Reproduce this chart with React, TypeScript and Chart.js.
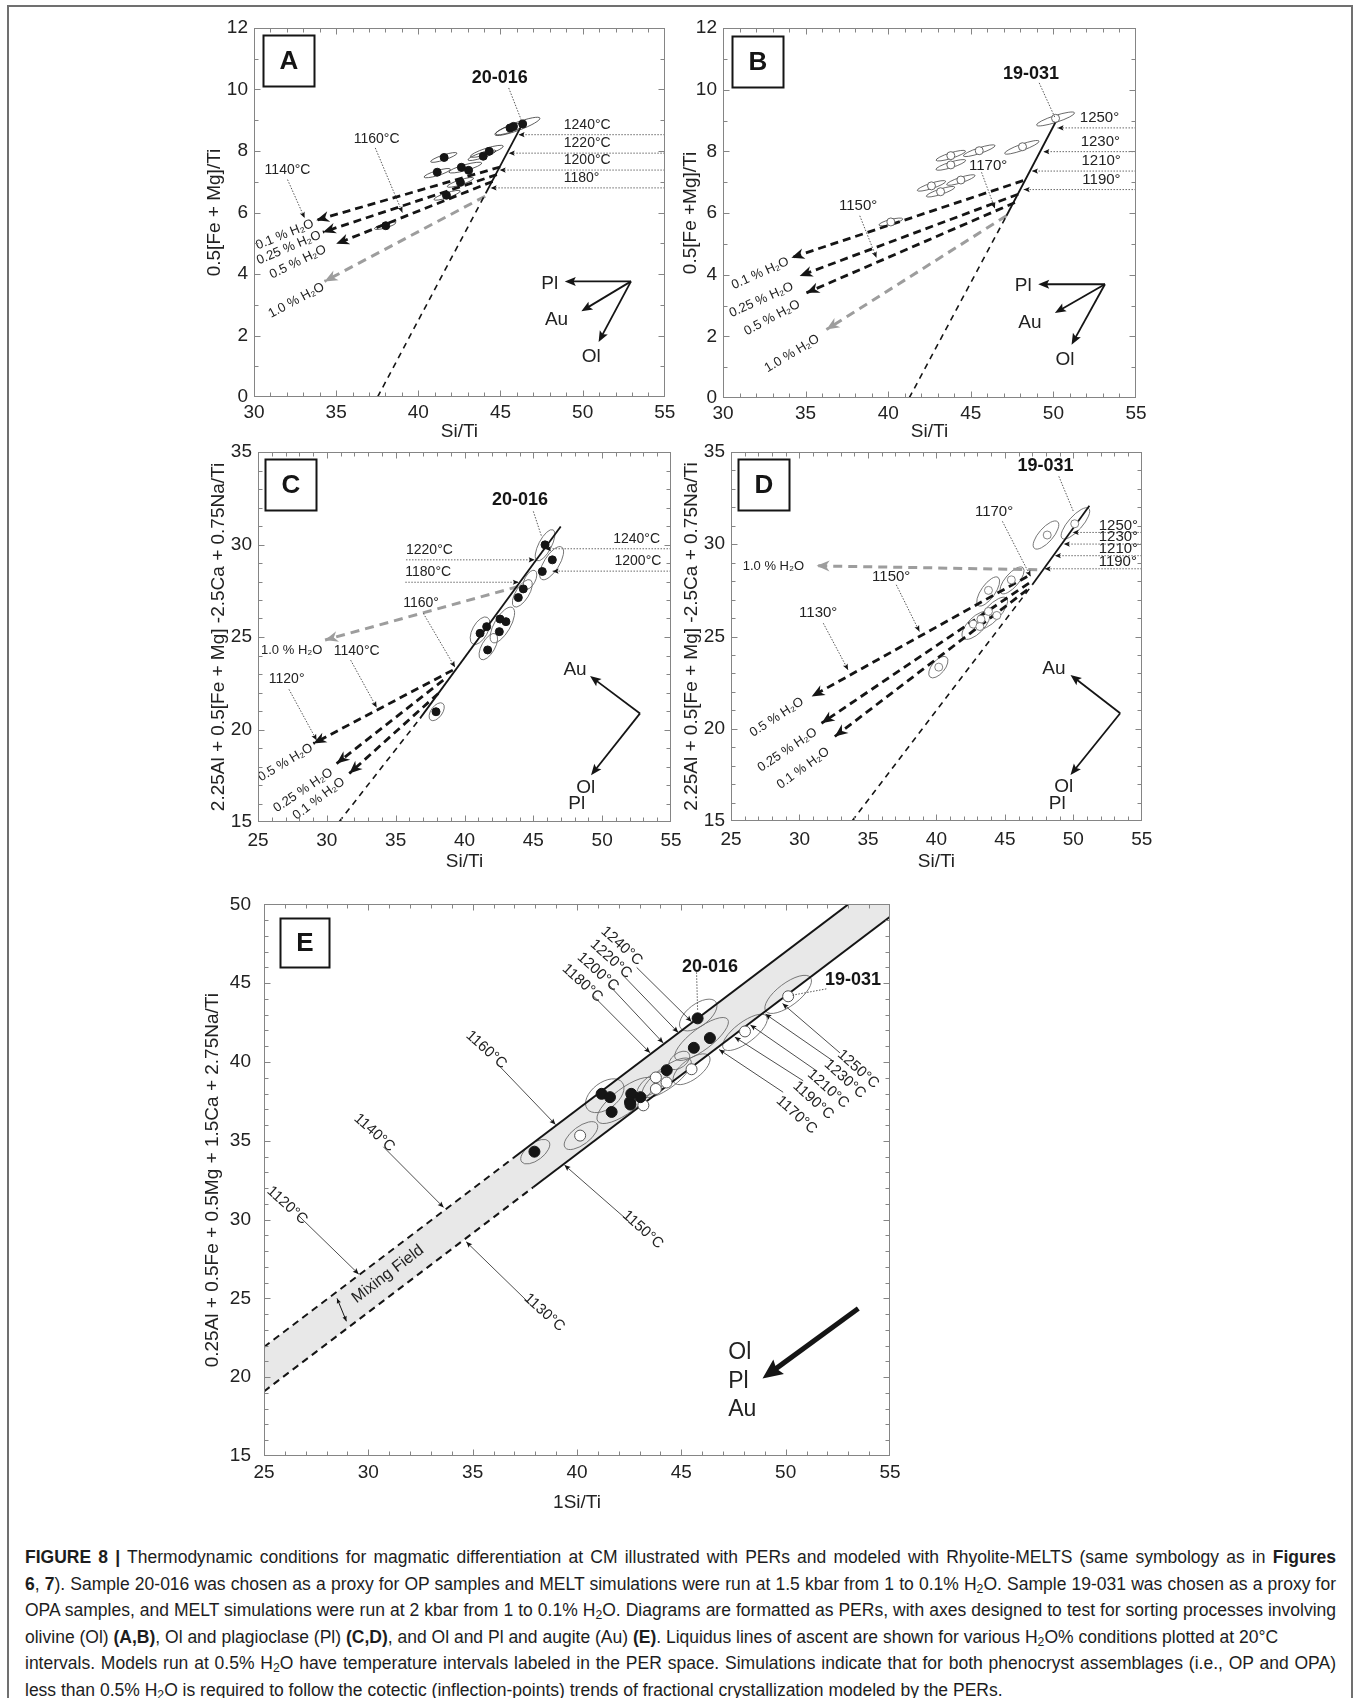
import React, { useEffect, useRef } from "react";
import { Chart, registerables } from "chart.js";

Chart.register(...registerables);

type Pt = [number, number];
type Temp = [string, number, number, number, number, string];
type Leader = [string, number, number, number, number, number, number];
type RLeader = [string, number, number, number, number, number, number, number];
type Vec = [string, number, number, number, number];
type TLabel = [string, number, number, number];
type PLabel = [string, number, number];

const FONT = '"Liberation Sans", Arial, Helvetica, sans-serif';
const INK = "#151515";
const GRAY = "#9d9d9d";
const FRAME = "#858585";
const TXT = "#222222";
const TICK_SIZE = 19;
const TITLE_SIZE = 19;

// ================= Panel A (OP, olivine PER) =================
const A_POINTS: Pt[] = [
  [46.35, 8.88], [45.79, 8.8], [45.58, 8.75], [41.57, 7.79], [44.31, 7.99], [43.95, 7.83],
  [41.15, 7.31], [42.62, 7.47], [43.06, 7.37], [42.56, 6.98], [41.71, 6.56], [38.02, 5.57],
];
// [cx, cy, half-major dx, half-major dy, minor/major]
const A_ELLIPSES: number[][] = [
  [46.03, 8.8, 1.37, 0.27, 0.17], [45.6, 8.72, 0.9, 0.17, 0.2], [41.55, 7.79, 0.8, 0.14, 0.18],
  [44.17, 7.99, 1.0, 0.17, 0.18], [43.87, 7.86, 0.85, 0.15, 0.18], [41.15, 7.28, 0.8, 0.13, 0.18],
  [42.86, 7.46, 1.0, 0.15, 0.17], [42.56, 6.98, 0.8, 0.14, 0.18], [41.75, 6.56, 0.8, 0.14, 0.18],
  [37.98, 5.57, 0.65, 0.1, 0.2],
];
const A_TREND_DASH: Pt[] = [[37.52, 0], [44.1, 6.62]];
const A_TREND_SOLID: Pt[] = [[44.1, 6.62], [46.35, 8.9]];
const A_H2O_BLACK: Pt[][] = [
  [[44.98, 7.48], [33.79, 5.75]],
  [[44.78, 7.23], [34.19, 5.36]],
  [[44.52, 7.01], [35.0, 4.98]],
];
const A_H2O_GRAY: Pt[] = [[44.07, 6.53], [34.29, 3.76]];
const A_H2O_LABELS: TLabel[] = [
  ["0.1 % H₂O", 31.88, 5.28, -22], ["0.25 % H₂O", 32.12, 4.85, -23],
  ["0.5 % H₂O", 32.68, 4.39, -26], ["1.0 % H₂O", 32.58, 3.14, -28],
];
const A_TEMPS: Temp[] = [
  ["1240°C", 8.53, 46.1, 55, 48.85, "left"], ["1220°C", 7.93, 45.5, 55, 48.85, "left"],
  ["1200°C", 7.38, 44.95, 55, 48.85, "left"], ["1180°", 6.8, 44.4, 55, 48.85, "left"],
];
const A_LEADERS: Leader[] = [
  ["1140°C", 32.04, 7.37, 32.04, 7.07, 33.08, 5.82],
  ["1160°C", 37.46, 8.37, 37.38, 8.1, 39.03, 6.0],
];
const A_SAMPLE: Leader = ["20-016", 44.96, 10.37, 45.5, 10.05, 46.3, 8.96];
const A_VEC_ORIGIN: Pt = [52.94, 3.76];
const A_VECTORS: Vec[] = [
  ["Pl", 48.91, 3.76, 48.0, 3.69], ["Au", 49.92, 2.79, 48.41, 2.52], ["Ol", 50.97, 1.79, 50.52, 1.32],
];

// ================= Panel B (OPA, olivine PER) =================
const B_POINTS: Pt[] = [
  [50.13, 9.07], [48.13, 8.15], [45.51, 8.02], [43.79, 7.86], [43.79, 7.56], [44.4, 7.07],
  [42.62, 6.88], [43.17, 6.69], [40.16, 5.71],
];
const B_ELLIPSES: number[][] = [
  [50.13, 9.05, 1.15, 0.2, 0.17], [48.09, 8.13, 1.04, 0.2, 0.17], [45.51, 8.02, 0.96, 0.17, 0.17],
  [43.79, 7.86, 0.89, 0.15, 0.18], [43.79, 7.56, 0.9, 0.15, 0.18], [44.4, 7.07, 0.86, 0.15, 0.18],
  [42.62, 6.88, 0.86, 0.15, 0.18], [43.17, 6.69, 0.86, 0.15, 0.18], [40.16, 5.71, 0.72, 0.1, 0.2],
];
const B_TREND_DASH: Pt[] = [[41.27, 0], [47.16, 5.91]];
const B_TREND_SOLID: Pt[] = [[47.16, 5.91], [50.23, 9.05]];
const B_H2O_BLACK: Pt[][] = [
  [[48.17, 7.05], [34.14, 4.55]],
  [[47.87, 6.61], [34.64, 3.96]],
  [[47.67, 6.34], [35.05, 3.41]],
];
const B_H2O_GRAY: Pt[] = [[47.16, 5.91], [36.26, 2.22]];
const B_H2O_LABELS: TLabel[] = [
  ["0.1 % H₂O", 32.26, 4.04, -24], ["0.25 % H₂O", 32.32, 3.18, -24],
  ["0.5 % H₂O", 32.97, 2.6, -28], ["1.0 % H₂O", 34.18, 1.44, -31],
];
const B_TEMPS: Temp[] = [
  ["1250°", 8.76, 50.25, 55, 51.6, "left"], ["1230°", 7.99, 49.39, 55, 51.65, "left"],
  ["1210°", 7.36, 48.7, 55, 51.7, "left"], ["1190°", 6.76, 48.2, 55, 51.75, "left"],
];
const B_LEADERS: Leader[] = [
  ["1150°", 38.18, 6.23, 38.28, 5.91, 39.29, 4.55],
  ["1170°", 46.05, 7.53, 45.65, 7.32, 46.46, 6.15],
];
const B_SAMPLE: Leader = ["19-031", 48.64, 10.51, 49.14, 10.22, 50.09, 9.1];
const B_VEC_ORIGIN: Pt = [53.12, 3.69];
const B_VECTORS: Vec[] = [
  ["Pl", 49.08, 3.69, 48.17, 3.63], ["Au", 50.09, 2.76, 48.58, 2.44], ["Ol", 51.1, 1.73, 50.7, 1.25],
];

// ================= Panel C (OP, Ol + Pl PER) =================
const C_POINTS: Pt[] = [
  [45.85, 29.98], [46.38, 29.17], [45.65, 28.54], [44.27, 27.6], [43.91, 27.13], [42.58, 25.97],
  [43.01, 25.83], [41.61, 25.56], [41.13, 25.2], [42.53, 25.29], [41.68, 24.3], [37.93, 20.96],
];
const C_ELLIPSES: number[][] = [
  [45.85, 29.96, 0.58, 0.83, 0.37], [46.33, 28.99, 0.73, 0.87, 0.4], [44.2, 27.36, 0.6, 0.72, 0.42],
  [44.76, 28.09, 0.36, 0.5, 0.5], [42.75, 25.65, 0.73, 0.94, 0.4], [41.13, 25.34, 0.53, 0.72, 0.5],
  [41.73, 24.48, 0.53, 0.69, 0.45], [37.98, 20.96, 0.44, 0.45, 0.55],
];
const C_TREND_DASH: Pt[] = [[30.88, 15], [36.77, 20.6]];
const C_TREND_SOLID: Pt[] = [[36.77, 20.6], [46.99, 30.97]];
const C_H2O_BLACK: Pt[][] = [
  [[39.15, 23.21], [29.02, 19.24]],
  [[38.46, 22.67], [30.71, 18.16]],
  [[38.1, 21.95], [31.63, 17.62]],
];
const C_H2O_GRAY: Pt[] = [[43.91, 27.73], [29.87, 24.84]];
const C_H2O_LABELS: TLabel[] = [
  ["1.0 % H₂O", 27.45, 24.3, 0], ["0.5 % H₂O", 27.0, 18.21, -31],
  ["0.25 % H₂O", 28.29, 16.71, -34], ["0.1 % H₂O", 29.43, 16.26, -37],
];
const C_TEMPS: Temp[] = [
  ["1240°C", 29.77, 45.85, 55, 54.2, "right"], ["1200°C", 28.56, 46.4, 55, 54.3, "right"],
  ["1220°C", 29.17, 45.1, 35.75, 35.75, "left"], ["1180°C", 27.96, 43.95, 35.7, 35.7, "left"],
];
const C_LEADERS: Leader[] = [
  ["1160°", 36.84, 26.82, 37.01, 26.28, 39.31, 23.36],
  ["1140°C", 32.17, 24.26, 31.73, 23.75, 33.62, 21.19],
  ["1120°", 27.08, 22.71, 27.25, 22.17, 29.26, 19.42],
];
const C_SAMPLE: Leader = ["20-016", 44.03, 32.42, 45.0, 31.79, 45.6, 30.43];
const C_VEC_ORIGIN: Pt = [52.75, 20.87];
const C_VECTORS: Vec[] = [["Au", 49.12, 22.89, 48.03, 23.25], ["Ol", 49.19, 17.53, 48.8, 16.86]];
const C_EXTRA: PLabel[] = [["Pl", 48.15, 15.96]];

// ================= Panel D (OPA, Ol + Pl PER) =================
const D_POINTS: Pt[] = [
  [50.1, 31.11], [48.09, 30.5], [45.47, 28.07], [43.8, 27.5], [43.8, 26.36], [44.41, 26.14],
  [43.25, 25.94], [42.69, 25.67], [43.17, 25.54], [40.17, 23.34],
];
const D_ELLIPSES: number[][] = [
  [50.15, 31.13, 0.97, 0.81, 0.35], [48.0, 30.5, 0.85, 0.72, 0.4], [45.52, 28.04, 0.8, 0.69, 0.4],
  [43.78, 27.44, 0.73, 0.76, 0.4], [44.09, 26.27, 1.02, 0.81, 0.38], [42.88, 25.6, 0.92, 0.69, 0.45],
  [40.14, 23.34, 0.6, 0.54, 0.5],
];
const D_TREND_DASH: Pt[] = [[33.84, 15], [47.0, 27.8]];
const D_TREND_SOLID: Pt[] = [[47.0, 27.8], [51.17, 32.09]];
const D_H2O_BLACK: Pt[][] = [
  [[46.63, 28.25], [30.89, 21.75]],
  [[46.76, 27.89], [31.61, 20.3]],
  [[46.63, 27.53], [32.58, 19.58]],
];
const D_H2O_GRAY: Pt[] = [[47.36, 28.62], [31.25, 28.83]];
const D_H2O_LABELS: TLabel[] = [
  ["1.0 % H₂O", 28.1, 28.8, 0], ["0.5 % H₂O", 28.34, 20.62, -33],
  ["0.25 % H₂O", 29.12, 18.85, -34], ["0.1 % H₂O", 30.28, 17.86, -36],
];
const D_TEMPS: Temp[] = [
  ["1250°", 30.64, 49.95, 55, 51.85, "left"], ["1230°", 30.01, 49.3, 55, 51.85, "left"],
  ["1210°", 29.38, 48.65, 55, 51.85, "left"], ["1190°", 28.67, 47.9, 55, 51.85, "left"],
];
const D_LEADERS: Leader[] = [
  ["1170°", 44.21, 31.78, 44.82, 31.24, 46.88, 28.25],
  ["1150°", 36.7, 28.25, 37.07, 27.8, 38.76, 25.27],
  ["1130°", 31.37, 26.27, 31.74, 25.72, 33.55, 23.19],
];
const D_SAMPLE: Leader = ["19-031", 47.97, 34.22, 48.94, 33.68, 50.03, 31.73];
const D_VEC_ORIGIN: Pt = [53.42, 20.84];
const D_VECTORS: Vec[] = [["Au", 49.79, 22.92, 48.58, 23.23], ["Ol", 49.79, 17.5, 49.3, 16.83]];
const D_EXTRA: PLabel[] = [["Pl", 48.82, 15.96]];

// ================= Panel E (Ol + Pl + Au PER) =================
const E_OP_POINTS: Pt[] = [
  [45.78, 42.77], [46.37, 41.52], [45.6, 40.9], [44.3, 39.48], [41.18, 37.98], [41.58, 37.77],
  [42.6, 37.98], [42.54, 37.46], [41.66, 36.83], [43.04, 37.77], [42.56, 37.3], [37.96, 34.31],
];
const E_OPA_POINTS: Pt[] = [
  [50.12, 44.17], [48.05, 41.94], [45.49, 39.54], [43.78, 39.02], [44.29, 38.7], [43.78, 38.29],
  [43.18, 37.25], [40.15, 35.33],
];
const E_ELLIPSES: number[][] = [
  [45.81, 42.98, 0.84, 0.84, 0.5], [45.97, 41.46, 1.25, 1.25, 0.33], [50.12, 44.29, 1.07, 1.07, 0.4],
  [48.05, 41.88, 1.03, 1.03, 0.38], [45.49, 39.54, 0.84, 0.84, 0.45], [44.3, 39.0, 1.14, 1.14, 0.35],
  [42.33, 37.56, 1.33, 1.33, 0.35], [41.33, 37.86, 0.84, 0.84, 0.6], [43.6, 38.6, 0.68, 0.68, 0.45],
  [40.19, 35.33, 0.76, 0.76, 0.45], [38.0, 34.31, 0.65, 0.65, 0.5], [44.9, 40.1, 0.46, 0.46, 0.6],
];
const E_UPPER_DASH: Pt[] = [[25, 21.92], [36.93, 33.89]];
const E_UPPER_SOLID: Pt[] = [[36.93, 33.89], [55, 52.01]];
const E_LOWER_DASH: Pt[] = [[25, 19.1], [37.9, 32.05]];
const E_LOWER_SOLID: Pt[] = [[37.9, 32.05], [55, 49.22]];
// [label, textX, textY, rotation, fromX, fromY, arrowX, arrowY]
const E_LEADERS: RLeader[] = [
  ["1240°C", 42.14, 47.36, 42, 42.86, 46.0, 45.49, 42.56],
  ["1220°C", 41.62, 46.53, 42, 42.22, 45.48, 44.85, 41.87],
  ["1200°C", 41.0, 45.72, 42, 41.54, 44.87, 44.13, 41.21],
  ["1180°C", 40.26, 45.0, 42, 40.79, 44.18, 43.5, 40.58],
  ["1160°C", 35.65, 40.77, 42, 36.19, 39.87, 38.97, 36.03],
  ["1140°C", 30.29, 35.51, 42, 30.72, 34.62, 33.61, 30.77],
  ["1120°C", 26.11, 30.9, 42, 26.65, 30.26, 29.54, 26.54],
  ["1250°C", 53.47, 39.54, 42, 52.6, 40.58, 49.85, 43.71],
  ["1230°C", 52.84, 38.92, 42, 52.28, 40.06, 49.03, 43.04],
  ["1210°C", 52.04, 38.29, 42, 51.48, 39.44, 48.31, 42.35],
  ["1190°C", 51.32, 37.56, 42, 50.84, 38.81, 47.56, 41.58],
  ["1170°C", 50.52, 36.63, 42, 49.88, 38.08, 46.81, 40.79],
  ["1150°C", 43.15, 29.36, 42, 42.5, 29.87, 39.4, 33.46],
  ["1130°C", 38.43, 24.1, 42, 37.68, 24.74, 34.69, 28.59],
];
const E_SAMPLES: Leader[] = [
  ["20-016", 46.37, 46.0, 45.73, 45.69, 45.78, 43.3],
  ["19-031", 53.23, 45.17, 51.95, 44.64, 50.28, 44.23],
];
const E_MIX_LABEL: PLabel = ["Mixing Field", 30.94, 26.54];
const E_WIDTH_MARK: Pt[] = [[28.5, 25.0], [28.95, 23.55]];
const E_BULK_ARROW: Pt[] = [[53.48, 24.36], [48.89, 19.92]];
const E_BULK_LABELS: PLabel[] = [["Ol", 47.25, 21.54], ["Pl", 47.25, 19.74], ["Au", 47.25, 17.95]];

// ================= drawing helpers =================
type Fx = (v: number) => number;

function arrowHead(ctx: CanvasRenderingContext2D, tx: number, ty: number, fx: number, fy: number,
  len: number, hw: number, color: string, notch = 0.25) {
  const a = Math.atan2(ty - fy, tx - fx);
  ctx.save();
  ctx.translate(tx, ty);
  ctx.rotate(a);
  ctx.beginPath();
  ctx.moveTo(0, 0);
  ctx.lineTo(-len, -hw);
  ctx.lineTo(-len * (1 - notch), 0);
  ctx.lineTo(-len, hw);
  ctx.closePath();
  ctx.fillStyle = color;
  ctx.fill();
  ctx.restore();
}

function segment(ctx: CanvasRenderingContext2D, x1: number, y1: number, x2: number, y2: number,
  color: string, width: number, dash: number[] = []) {
  ctx.save();
  ctx.strokeStyle = color;
  ctx.lineWidth = width;
  ctx.setLineDash(dash);
  ctx.beginPath();
  ctx.moveTo(x1, y1);
  ctx.lineTo(x2, y2);
  ctx.stroke();
  ctx.restore();
}

function shortenTo(x1: number, y1: number, x2: number, y2: number, d: number): [number, number] {
  const L = Math.hypot(x2 - x1, y2 - y1) || 1;
  return [x2 - ((x2 - x1) / L) * d, y2 - ((y2 - y1) / L) * d];
}

function text(ctx: CanvasRenderingContext2D, s: string, x: number, y: number, font: string,
  align: CanvasTextAlign = "center", rotDeg = 0, color = TXT) {
  ctx.save();
  ctx.translate(x, y);
  if (rotDeg) ctx.rotate((rotDeg * Math.PI) / 180);
  ctx.font = font;
  ctx.fillStyle = color;
  ctx.textAlign = align;
  ctx.textBaseline = "middle";
  ctx.fillText(s, 0, 0);
  ctx.restore();
}

function drawEllipses(ctx: CanvasRenderingContext2D, X: Fx, Y: Fx, list: number[][], color: string, width: number) {
  ctx.save();
  ctx.strokeStyle = color;
  ctx.lineWidth = width;
  for (const [cx, cy, hx, hy, r] of list) {
    const px = X(cx), py = Y(cy);
    const ux = X(cx + hx) - px, uy = Y(cy + hy) - py;
    const a = Math.hypot(ux, uy);
    ctx.beginPath();
    ctx.ellipse(px, py, a, a * r, Math.atan2(uy, ux), 0, Math.PI * 2);
    ctx.stroke();
  }
  ctx.restore();
}

function waterHead(ctx: CanvasRenderingContext2D, X: Fx, Y: Fx, line: Pt[], color: string) {
  const n = line.length;
  const [tx, ty] = line[n - 1];
  const [fx, fy] = line[n - 2];
  arrowHead(ctx, X(tx), Y(ty), X(fx), Y(fy), 13, 5.5, color, 0.3);
}

function drawLetter(ctx: CanvasRenderingContext2D, area: any, letter: string, dx: number, dy: number, size: number) {
  const x = Math.round(area.left + dx) + 0.5;
  const y = Math.round(area.top + dy) + 0.5;
  ctx.save();
  ctx.fillStyle = "#fff";
  ctx.fillRect(x, y, size, size);
  ctx.lineWidth = 2;
  ctx.strokeStyle = INK;
  ctx.strokeRect(x, y, size, size);
  ctx.restore();
  text(ctx, letter, x + size / 2, y + size / 2 + 1, `bold 26px ${FONT}`, "center", 0, INK);
}

interface StdAnn {
  letter: string;
  letterBox: [number, number, number];
  h2oBlack: Pt[][];
  h2oGray: Pt[];
  h2oLabels: TLabel[];
  temps: Temp[];
  tempOffset: number;
  tempFont: number;
  leaders: Leader[];
  sample: Leader;
  vecOrigin: Pt;
  vectors: Vec[];
  extras: PLabel[];
}

function drawStd(ctx: CanvasRenderingContext2D, X: Fx, Y: Fx, area: any, a: StdAnn) {
  for (const l of a.h2oBlack) waterHead(ctx, X, Y, l, INK);
  waterHead(ctx, X, Y, a.h2oGray, GRAY);
  const tf = `${a.tempFont}px ${FONT}`;
  for (const [t, y, xt, xf, lx, al] of a.temps) {
    const yy = Y(y);
    segment(ctx, X(xf), yy, X(xt), yy, "#6a6a6a", 1, [1.5, 1.5]);
    arrowHead(ctx, X(xt), yy, X(xf), yy, 6, 2.6, INK, 0.2);
    text(ctx, t, X(lx), yy - a.tempOffset, tf, al as CanvasTextAlign);
  }
  for (const [t, x, y, r] of a.h2oLabels) text(ctx, t, X(x), Y(y), `13px ${FONT}`, "center", r);
  for (const [t, tx, ty, fx, fy, ax, ay] of a.leaders) {
    segment(ctx, X(fx), Y(fy), X(ax), Y(ay), "#444", 0.9, [1.5, 1.5]);
    arrowHead(ctx, X(ax), Y(ay), X(fx), Y(fy), 6, 2.6, INK, 0.2);
    text(ctx, t, X(tx), Y(ty), tf);
  }
  const s = a.sample;
  segment(ctx, X(s[3]), Y(s[4]), X(s[5]), Y(s[6]), "#444", 0.9, [1.5, 1.5]);
  text(ctx, s[0], X(s[1]), Y(s[2]), `bold 18px ${FONT}`, "center", 0, INK);
  const ox = X(a.vecOrigin[0]), oy = Y(a.vecOrigin[1]);
  for (const [t, tx, ty, lx, ly] of a.vectors) {
    const px = X(tx), py = Y(ty);
    const [ex, ey] = shortenTo(ox, oy, px, py, 6);
    segment(ctx, ox, oy, ex, ey, INK, 1.8);
    arrowHead(ctx, px, py, ox, oy, 11, 4.5, INK, 0.2);
    text(ctx, t, X(lx), Y(ly), `19px ${FONT}`);
  }
  for (const [t, lx, ly] of a.extras) text(ctx, t, X(lx), Y(ly), `19px ${FONT}`);
  drawLetter(ctx, area, a.letter, a.letterBox[0], a.letterBox[1], a.letterBox[2]);
}

function drawE(ctx: CanvasRenderingContext2D, X: Fx, Y: Fx, area: any) {
  for (const [t, tx, ty, rot, fx, fy, ax, ay] of E_LEADERS) {
    segment(ctx, X(fx), Y(fy), X(ax), Y(ay), "#3a3a3a", 0.9);
    arrowHead(ctx, X(ax), Y(ay), X(fx), Y(fy), 6, 2.6, INK, 0.2);
    text(ctx, t, X(tx), Y(ty), `15px ${FONT}`, "center", rot);
  }
  for (const [t, tx, ty, fx, fy, ax, ay] of E_SAMPLES) {
    segment(ctx, X(fx), Y(fy), X(ax), Y(ay), "#444", 0.9, [1.5, 1.5]);
    text(ctx, t, X(tx), Y(ty), `bold 18px ${FONT}`, "center", 0, INK);
  }
  const [p0, p1] = E_LOWER_DASH;
  const ang = (Math.atan2(Y(p1[1]) - Y(p0[1]), X(p1[0]) - X(p0[0])) * 180) / Math.PI;
  text(ctx, E_MIX_LABEL[0], X(E_MIX_LABEL[1]), Y(E_MIX_LABEL[2]), `16px ${FONT}`, "center", ang);
  const [w0, w1] = E_WIDTH_MARK;
  segment(ctx, X(w0[0]), Y(w0[1]), X(w1[0]), Y(w1[1]), INK, 1);
  arrowHead(ctx, X(w0[0]), Y(w0[1]), X(w1[0]), Y(w1[1]), 5, 2.2, INK, 0.1);
  arrowHead(ctx, X(w1[0]), Y(w1[1]), X(w0[0]), Y(w0[1]), 5, 2.2, INK, 0.1);
  const [b0, b1] = E_BULK_ARROW;
  const bx0 = X(b0[0]), by0 = Y(b0[1]), bx1 = X(b1[0]), by1 = Y(b1[1]);
  const [ex, ey] = shortenTo(bx0, by0, bx1, by1, 12);
  segment(ctx, bx0, by0, ex, ey, INK, 5);
  arrowHead(ctx, bx1, by1, bx0, by0, 20, 9, INK, 0.15);
  for (const [t, lx, ly] of E_BULK_LABELS) text(ctx, t, X(lx), Y(ly), `23px ${FONT}`, "left");
  drawLetter(ctx, area, "E", 16, 14, 49);
}

// ================= chart specs =================
const lineDs = (pts: Pt[], color: string, width: number, dash: number[] = []) => ({
  data: pts.map(([x, y]) => ({ x, y })),
  showLine: true,
  borderColor: color,
  borderWidth: width,
  borderDash: dash,
  borderCapStyle: "butt",
  pointRadius: 0,
  pointHoverRadius: 0,
  fill: false,
  order: 5,
});
const dotDs = (pts: Pt[], fill: string, stroke: string, r: number, bw: number) => ({
  data: pts.map(([x, y]) => ({ x, y })),
  showLine: false,
  pointRadius: r,
  pointHoverRadius: r,
  backgroundColor: fill,
  borderColor: stroke,
  borderWidth: bw,
  pointBorderWidth: bw,
  order: 0,
});

interface PanelSpec {
  key: string;
  canvas: [number, number, number, number];
  plot: [number, number, number, number];
  yTitleX: number;
  xTitleY: number;
  xTickPad: number;
  yTickPad: number;
  xRange: [number, number, number];
  yRange: [number, number, number];
  xTitle: string;
  yTitle: string;
  datasets: () => any[];
  below: (ctx: CanvasRenderingContext2D, X: Fx, Y: Fx, area: any) => void;
  above: (ctx: CanvasRenderingContext2D, X: Fx, Y: Fx, area: any) => void;
}

const SPECS: PanelSpec[] = [
  {
    key: "A", canvas: [180, 8, 500, 440], plot: [254, 28, 667, 397],
    yTitleX: 215, xTitleY: 432, xTickPad: 4.6, yTickPad: 6,
    xRange: [30, 55, 5], yRange: [0, 12, 2], xTitle: "Si/Ti", yTitle: "0.5[Fe + Mg]/Ti",
    datasets: () => [
      dotDs(A_POINTS, INK, INK, 4, 1),
      lineDs(A_TREND_DASH, INK, 1.6, [6, 5]),
      lineDs(A_TREND_SOLID, INK, 1.8),
      ...A_H2O_BLACK.map((p) => lineDs(p, INK, 2.8, [8, 5])),
      lineDs(A_H2O_GRAY, GRAY, 3, [9, 6]),
    ],
    below: (ctx, X, Y) => drawEllipses(ctx, X, Y, A_ELLIPSES, "#333", 0.8),
    above: (ctx, X, Y, area) => drawStd(ctx, X, Y, area, {
      letter: "A", letterBox: [9, 7, 51], h2oBlack: A_H2O_BLACK, h2oGray: A_H2O_GRAY, h2oLabels: A_H2O_LABELS,
      temps: A_TEMPS, tempOffset: 10, tempFont: 14, leaders: A_LEADERS, sample: A_SAMPLE,
      vecOrigin: A_VEC_ORIGIN, vectors: A_VECTORS, extras: [],
    }),
  },
  {
    key: "B", canvas: [660, 8, 500, 440], plot: [723, 28, 1136, 398],
    yTitleX: 691, xTitleY: 432, xTickPad: 4.6, yTickPad: 6,
    xRange: [30, 55, 5], yRange: [0, 12, 2], xTitle: "Si/Ti", yTitle: "0.5[Fe +Mg]/Ti",
    datasets: () => [
      dotDs(B_POINTS, "#fff", "#555", 4, 0.9),
      lineDs(B_TREND_DASH, INK, 1.6, [6, 5]),
      lineDs(B_TREND_SOLID, INK, 1.8),
      ...B_H2O_BLACK.map((p) => lineDs(p, INK, 2.8, [8, 5])),
      lineDs(B_H2O_GRAY, GRAY, 3, [9, 6]),
    ],
    below: (ctx, X, Y) => drawEllipses(ctx, X, Y, B_ELLIPSES, "#444", 0.8),
    above: (ctx, X, Y, area) => drawStd(ctx, X, Y, area, {
      letter: "B", letterBox: [9, 8, 51], h2oBlack: B_H2O_BLACK, h2oGray: B_H2O_GRAY, h2oLabels: B_H2O_LABELS,
      temps: B_TEMPS, tempOffset: 10, tempFont: 15, leaders: B_LEADERS, sample: B_SAMPLE,
      vecOrigin: B_VEC_ORIGIN, vectors: B_VECTORS, extras: [],
    }),
  },
  {
    key: "C", canvas: [180, 430, 510, 448], plot: [258, 452, 671, 822],
    yTitleX: 219, xTitleY: 862, xTickPad: 7.6, yTickPad: 6,
    xRange: [25, 55, 5], yRange: [15, 35, 5], xTitle: "Si/Ti",
    yTitle: "2.25Al + 0.5[Fe + Mg] -2.5Ca + 0.75Na/Ti",
    datasets: () => [
      dotDs(C_POINTS, INK, INK, 4, 1),
      lineDs(C_TREND_DASH, INK, 1.6, [6, 5]),
      lineDs(C_TREND_SOLID, INK, 1.8),
      ...C_H2O_BLACK.map((p) => lineDs(p, INK, 2.8, [8, 5])),
      lineDs(C_H2O_GRAY, GRAY, 3, [9, 6]),
    ],
    below: (ctx, X, Y) => drawEllipses(ctx, X, Y, C_ELLIPSES, "#666", 0.9),
    above: (ctx, X, Y, area) => drawStd(ctx, X, Y, area, {
      letter: "C", letterBox: [7, 7, 51], h2oBlack: C_H2O_BLACK, h2oGray: C_H2O_GRAY, h2oLabels: C_H2O_LABELS,
      temps: C_TEMPS, tempOffset: 10, tempFont: 14, leaders: C_LEADERS, sample: C_SAMPLE,
      vecOrigin: C_VEC_ORIGIN, vectors: C_VECTORS, extras: C_EXTRA,
    }),
  },
  {
    key: "D", canvas: [660, 430, 500, 448], plot: [731, 452, 1143, 821],
    yTitleX: 691.5, xTitleY: 862, xTickPad: 7.6, yTickPad: 6,
    xRange: [25, 55, 5], yRange: [15, 35, 5], xTitle: "Si/Ti",
    yTitle: "2.25Al + 0.5[Fe + Mg] -2.5Ca + 0.75Na/Ti",
    datasets: () => [
      dotDs(D_POINTS, "#fff", "#777", 4, 0.9),
      lineDs(D_TREND_DASH, INK, 1.6, [6, 5]),
      lineDs(D_TREND_SOLID, INK, 1.8),
      ...D_H2O_BLACK.map((p) => lineDs(p, INK, 2.8, [8, 5])),
      lineDs(D_H2O_GRAY, GRAY, 3, [9, 6]),
    ],
    below: (ctx, X, Y) => drawEllipses(ctx, X, Y, D_ELLIPSES, "#666", 0.9),
    above: (ctx, X, Y, area) => drawStd(ctx, X, Y, area, {
      letter: "D", letterBox: [7, 7, 51], h2oBlack: D_H2O_BLACK, h2oGray: D_H2O_GRAY, h2oLabels: D_H2O_LABELS,
      temps: D_TEMPS, tempOffset: 7, tempFont: 15, leaders: D_LEADERS, sample: D_SAMPLE,
      vecOrigin: D_VEC_ORIGIN, vectors: D_VECTORS, extras: D_EXTRA,
    }),
  },
  {
    key: "E", canvas: [180, 880, 730, 640], plot: [264, 896, 890, 1456],
    yTitleX: 213, xTitleY: 1503, xTickPad: 5.6, yTickPad: 13,
    xRange: [25, 55, 5], yRange: [15, 50, 5], xTitle: "1Si/Ti",
    yTitle: "0.25Al + 0.5Fe + 0.5Mg + 1.5Ca + 2.75Na/Ti",
    datasets: () => [
      dotDs(E_OP_POINTS, INK, INK, 5.5, 1),
      dotDs(E_OPA_POINTS, "#fff", "#555", 5.5, 1),
      lineDs(E_UPPER_DASH, INK, 2, [7, 5]),
      lineDs(E_UPPER_SOLID, INK, 2),
      lineDs(E_LOWER_DASH, INK, 2, [7, 5]),
      lineDs(E_LOWER_SOLID, INK, 2),
    ],
    below: (ctx, X, Y) => {
      ctx.save();
      ctx.beginPath();
      ctx.moveTo(X(E_UPPER_DASH[0][0]), Y(E_UPPER_DASH[0][1]));
      ctx.lineTo(X(E_UPPER_SOLID[1][0]), Y(E_UPPER_SOLID[1][1]));
      ctx.lineTo(X(E_LOWER_SOLID[1][0]), Y(E_LOWER_SOLID[1][1]));
      ctx.lineTo(X(E_LOWER_DASH[0][0]), Y(E_LOWER_DASH[0][1]));
      ctx.closePath();
      ctx.fillStyle = "#e8e8e8";
      ctx.fill();
      ctx.restore();
      drawEllipses(ctx, X, Y, E_ELLIPSES, "#6a6a6a", 0.9);
    },
    above: (ctx, X, Y, area) => drawE(ctx, X, Y, area),
  },
];

function drawFrame(chart: any, s: PanelSpec) {
  const { ctx, chartArea: a, scales } = chart;
  const xs = scales.x, ys = scales.y;
  const l = Math.round(a.left) + 0.5, r = Math.round(a.right) - 0.5;
  const t = Math.round(a.top) + 0.5, b = Math.round(a.bottom) - 0.5;
  ctx.save();
  ctx.strokeStyle = FRAME;
  ctx.lineWidth = 1;
  ctx.strokeRect(l, t, r - l, b - t);
  ctx.beginPath();
  const [x0, x1, xst] = s.xRange;
  for (let v = x0 + 1; v < x1; v += 1) {
    const p = Math.round(xs.getPixelForValue(v)) + 0.5;
    const len = (v - x0) % xst === 0 ? 6 : 4;
    ctx.moveTo(p, b); ctx.lineTo(p, b - len);
    ctx.moveTo(p, t); ctx.lineTo(p, t + len);
  }
  const [y0, y1, yst] = s.yRange;
  for (let v = y0 + 1; v < y1; v += 1) {
    const p = Math.round(ys.getPixelForValue(v)) + 0.5;
    const len = (v - y0) % yst === 0 ? 6 : 4;
    ctx.moveTo(l, p); ctx.lineTo(l + len, p);
    ctx.moveTo(r, p); ctx.lineTo(r - len, p);
  }
  ctx.stroke();
  ctx.restore();
}

function buildChart(canvas: HTMLCanvasElement, s: PanelSpec): Chart {
  const [cx, cy, cw, ch] = s.canvas;
  const [L, T, R, B] = s.plot;
  const lh = TITLE_SIZE * 1.2;
  const padLeft = s.yTitleX - cx - lh / 2;
  const yAxisW = L - cx - padLeft;
  const padTop = T - cy;
  const padRight = cx + cw - R;
  const xAxisH = s.xTitleY - B + lh / 2;
  const padBottom = cy + ch - B - xAxisH;
  const tickFont = { family: FONT, size: TICK_SIZE };
  const titleFont = { family: FONT, size: TITLE_SIZE };
  const pix = (chart: any) => {
    const xs = chart.scales.x, ys = chart.scales.y;
    return [(v: number) => xs.getPixelForValue(v), (v: number) => ys.getPixelForValue(v)] as [Fx, Fx];
  };
  const plugin = {
    id: "ann" + s.key,
    beforeDatasetsDraw(chart: any) {
      const { ctx, chartArea: a } = chart;
      const [X, Y] = pix(chart);
      ctx.save();
      ctx.beginPath();
      ctx.rect(a.left, a.top, a.right - a.left, a.bottom - a.top);
      ctx.clip();
      s.below(ctx, X, Y, a);
      ctx.restore();
    },
    afterDatasetsDraw(chart: any) {
      const { ctx, chartArea: a } = chart;
      const [X, Y] = pix(chart);
      ctx.save();
      s.above(ctx, X, Y, a);
      ctx.restore();
    },
    afterDraw(chart: any) {
      drawFrame(chart, s);
    },
  };
  return new Chart(canvas, {
    type: "scatter",
    data: { datasets: s.datasets() as any },
    options: {
      animation: false,
      responsive: false,
      maintainAspectRatio: false,
      events: [],
      layout: { padding: { left: padLeft, top: padTop, right: padRight, bottom: padBottom } },
      plugins: { legend: { display: false }, tooltip: { enabled: false } },
      scales: {
        x: {
          type: "linear", position: "bottom", min: s.xRange[0], max: s.xRange[1],
          ticks: { stepSize: s.xRange[2], autoSkip: false, maxRotation: 0, minRotation: 0, font: tickFont, color: TXT, padding: s.xTickPad },
          grid: { display: false, drawTicks: false },
          border: { display: false },
          title: { display: true, text: s.xTitle, font: titleFont, color: TXT, padding: 0 },
          afterFit: (sc: any) => { sc.height = xAxisH; },
        },
        y: {
          type: "linear", position: "left", min: s.yRange[0], max: s.yRange[1],
          ticks: { stepSize: s.yRange[2], autoSkip: false, font: tickFont, color: TXT, padding: s.yTickPad },
          grid: { display: false, drawTicks: false },
          border: { display: false },
          title: { display: true, text: s.yTitle, font: titleFont, color: TXT, padding: 0 },
          afterFit: (sc: any) => { sc.width = yAxisW; },
        },
      },
    } as any,
    plugins: [plugin as any],
  });
}

const SUB: React.CSSProperties = { fontSize: "0.7em", verticalAlign: "-0.25em", lineHeight: 0 };
const CAP_LINE: React.CSSProperties = { height: 26.5, lineHeight: "26.5px", whiteSpace: "nowrap" };
const CAP_J: React.CSSProperties = { ...CAP_LINE, textAlign: "justify", textAlignLast: "justify" as any };

export default function App() {
  const refs = useRef<(HTMLCanvasElement | null)[]>([]);
  useEffect(() => {
    const charts = SPECS.map((s, i) => buildChart(refs.current[i] as HTMLCanvasElement, s));
    return () => charts.forEach((c) => c.destroy());
  }, []);
  return (
    <div style={{ position: "absolute", left: 0, top: 0, width: 1356, height: 1698, overflow: "hidden", background: "#fff" }}>
      <div style={{
        position: "absolute", left: 7, top: 5, width: 1346, height: 1700, boxSizing: "border-box",
        borderLeft: "2px solid #707070", borderTop: "2px solid #707070", borderRight: "2px solid #707070",
      }} />
      {SPECS.map((s, i) => (
        <canvas
          key={s.key}
          ref={(el) => { refs.current[i] = el; }}
          width={s.canvas[2]}
          height={s.canvas[3]}
          style={{ position: "absolute", left: s.canvas[0], top: s.canvas[1], width: s.canvas[2], height: s.canvas[3] }}
        />
      ))}
      <div style={{ position: "absolute", left: 25, top: 1544, width: 1311, fontFamily: FONT, fontSize: 17.5, color: "#1d1d1d" }}>
        <div style={CAP_J}><b>FIGURE 8 |</b> Thermodynamic conditions for magmatic differentiation at CM illustrated with PERs and modeled with Rhyolite-MELTS (same symbology as in <b>Figures</b></div>
        <div style={CAP_J}><b>6</b>, <b>7</b>). Sample 20-016 was chosen as a proxy for OP samples and MELT simulations were run at 1.5 kbar from 1 to 0.1% H<sub style={SUB}>2</sub>O. Sample 19-031 was chosen as a proxy for</div>
        <div style={CAP_J}>OPA samples, and MELT simulations were run at 2 kbar from 1 to 0.1% H<sub style={SUB}>2</sub>O. Diagrams are formatted as PERs, with axes designed to test for sorting processes involving</div>
        <div style={CAP_LINE}>olivine (Ol) <b>(A,B)</b>, Ol and plagioclase (Pl) <b>(C,D)</b>, and Ol and Pl and augite (Au) <b>(E)</b>. Liquidus lines of ascent are shown for various H<sub style={SUB}>2</sub>O% conditions plotted at 20°C</div>
        <div style={CAP_J}>intervals. Models run at 0.5% H<sub style={SUB}>2</sub>O have temperature intervals labeled in the PER space. Simulations indicate that for both phenocryst assemblages (i.e., OP and OPA)</div>
        <div style={CAP_LINE}>less than 0.5% H<sub style={SUB}>2</sub>O is required to follow the cotectic (inflection-points) trends of fractional crystallization modeled by the PERs.</div>
      </div>
    </div>
  );
}
